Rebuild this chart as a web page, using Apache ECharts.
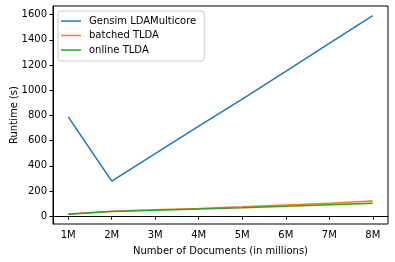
<!DOCTYPE html>
<html>
<head>
<meta charset="utf-8">
<script src="https://cdn.jsdelivr.net/npm/echarts@6/dist/echarts.min.js"></script>
<style>html,body{margin:0;padding:0;background:#fff}#c{width:395px;height:262px}</style>
</head>
<body>
<div id="c"></div>
<script>
var docs = [1, 2, 3, 4, 5, 6, 7, 8];
var docLabels = ['1M', '2M', '3M', '4M', '5M', '6M', '7M', '8M'];
var gensim = [788, 279, 497, 716, 930, 1150, 1372, 1592];
var batched = [18, 40, 52, 62, 74, 88, 103, 120];
var online = [16, 38, 48, 58, 68, 79, 91, 103];
var yTicks = [0, 200, 400, 600, 800, 1000, 1200, 1400, 1600];

function pairs(v) { return docs.map(function (d, i) { return [d, v[i]]; }); }
var font = 'DejaVu Sans';
var chart = echarts.init(document.getElementById('c'), null, {renderer: 'canvas'});
chart.setOption({
  animation: false,
  backgroundColor: '#fff',
  grid: {left: 53, right: 7, top: 6, bottom: 38, containLabel: false, outerBoundsMode: 'none',
    show: true, borderColor: '#000', borderWidth: 1, backgroundColor: 'transparent'},
  xAxis: {
    type: 'value', min: 0.65, max: 8.35,
    name: 'Number of Documents (in millions)', nameLocation: 'middle', nameGap: 22, nameMoveOverlap: false,
    nameTextStyle: {fontFamily: font, fontSize: 10, color: '#000'},
    axisLine: {show: true, lineStyle: {color: '#000', width: 1}},
    axisTick: {show: true, length: 3.5, lineStyle: {color: '#000'}, customValues: docs},
    axisLabel: {fontFamily: font, fontSize: 10, color: '#000', margin: 6, customValues: docs,
      formatter: function (v) { var i = docs.indexOf(v); return i >= 0 ? docLabels[i] : ''; }},
    splitLine: {show: false}
  },
  yAxis: {
    type: 'value', min: -62, max: 1669,
    name: 'Runtime (s)', nameLocation: 'middle', nameGap: 34, nameMoveOverlap: false,
    nameTextStyle: {fontFamily: font, fontSize: 10, color: '#000'},
    axisLine: {show: true, lineStyle: {color: '#000', width: 1}},
    axisTick: {show: true, length: 3.5, lineStyle: {color: '#000'}, customValues: yTicks},
    axisLabel: {fontFamily: font, fontSize: 10, color: '#000', margin: 6, customValues: yTicks,
      formatter: function (v) { return String(v); }},
    splitLine: {show: false}
  },
  legend: {
    orient: 'vertical', left: 58, top: 11,
    padding: [5, 8, 6, 3],
    backgroundColor: '#fff', borderColor: '#ccc', borderWidth: 1, borderRadius: 3,
    icon: 'rect', itemWidth: 20, itemHeight: 1.5, itemGap: 4.5,
    textStyle: {fontFamily: font, fontSize: 10, color: '#000', padding: [0, 0, 0, 3]},
    data: ['Gensim LDAMulticore', 'batched TLDA', 'online TLDA']
  },
  series: [
    {name: 'Gensim LDAMulticore', type: 'line', data: pairs(gensim), symbol: 'none', lineStyle: {width: 1.5, color: '#1f77b4'}, itemStyle: {color: '#1f77b4'}},
    {name: 'batched TLDA', type: 'line', data: pairs(batched), symbol: 'none', lineStyle: {width: 1.5, color: '#ff7f0e'}, itemStyle: {color: '#ff7f0e'}},
    {name: 'online TLDA', type: 'line', data: pairs(online), symbol: 'none', lineStyle: {width: 1.5, color: '#2ca02c'}, itemStyle: {color: '#2ca02c'}}
  ]
});
</script>
</body>
</html>
